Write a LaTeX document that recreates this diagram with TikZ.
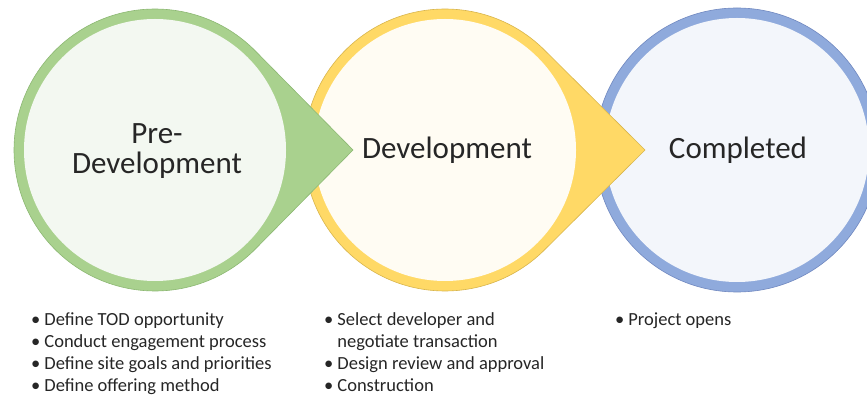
\documentclass[tikz,border=0pt]{standalone}
\usepackage{fontspec}
\setmainfont{Carlito}
\usetikzlibrary{calc,positioning}
\definecolor{greenring}{HTML}{A9D18E}
\definecolor{greenedge}{HTML}{8CB872}
\definecolor{greeninner}{HTML}{F3F8F1}
\definecolor{yellowring}{HTML}{FFD966}
\definecolor{yellowedge}{HTML}{D8B54C}
\definecolor{yellowinner}{HTML}{FFFCF3}
\definecolor{bluering}{HTML}{8FAADC}
\definecolor{blueedge}{HTML}{7088C0}
\definecolor{blueinner}{HTML}{F3F6FB}
\definecolor{textgrey}{HTML}{262626}
\tikzset{%
	stage/.style   = {font=\fontsize{31}{30}\selectfont, align=center, text=textgrey, inner sep=0pt},
	bullets/.style = {font=\fontsize{18.5}{22}\selectfont, text=textgrey, anchor=north west, inner sep=0pt},
	ring/.style    = {line width=0.6pt},
}
\begin{document}
\begin{tikzpicture}[x=1pt,y=1pt]
			\clip (0,0) rectangle (867,399);
			\fill[white] (0,0) rectangle (867,399);
			\coordinate (cpre) at (155,249);
			\coordinate (cdev) at (445,249);
			\coordinate (ccom) at (737,249);
			% completed: plain circle
			\filldraw[ring, draw=blueedge, fill=bluering] (ccom) circle[radius=142];
			\fill[blueinner] (ccom) circle[radius=132];
			% development: circle with arrow
			\filldraw[ring, draw=yellowedge, fill=yellowring] ($(cdev)+(45.2:141)$) arc[start angle=45.2, end angle=314.8, radius=141] -- ($(cdev)+(200,0)$) -- cycle;
			\fill[yellowinner] (cdev) circle[radius=131];
			% pre-development: circle with arrow
			\filldraw[ring, draw=greenedge, fill=greenring] ($(cpre)+(44.6:141)$) arc[start angle=44.6, end angle=315.4, radius=141] -- ($(cpre)+(198,0)$) -- cycle;
			\fill[greeninner] (cpre) circle[radius=131];
			\node[stage] (pre) at (157,248) {Pre-\\Development};
			\node[stage] (dev) at (447,249) {Development};
			\node[stage] (com) at (738,249) {Completed};
			\node[bullets] (prelist) at (31,89) {\begin{tabular}{@{}l@{\hspace{4pt}}l@{}}
				\textbullet & Define TOD opportunity\\
				\textbullet & Conduct engagement process\\
				\textbullet & Define site goals and priorities\\
				\textbullet & Define offering method
			\end{tabular}};
			\node[bullets] (devlist) at (324,89) {\begin{tabular}{@{}l@{\hspace{4pt}}l@{}}
				\textbullet & Select developer and\\
				 & negotiate transaction\\
				\textbullet & Design review and approval\\
				\textbullet & Construction
			\end{tabular}};
			\node[bullets] (comlist) at (615,89) {\begin{tabular}{@{}l@{\hspace{4pt}}l@{}}
				\textbullet & Project opens
			\end{tabular}};
			\end{tikzpicture}
\end{document}
